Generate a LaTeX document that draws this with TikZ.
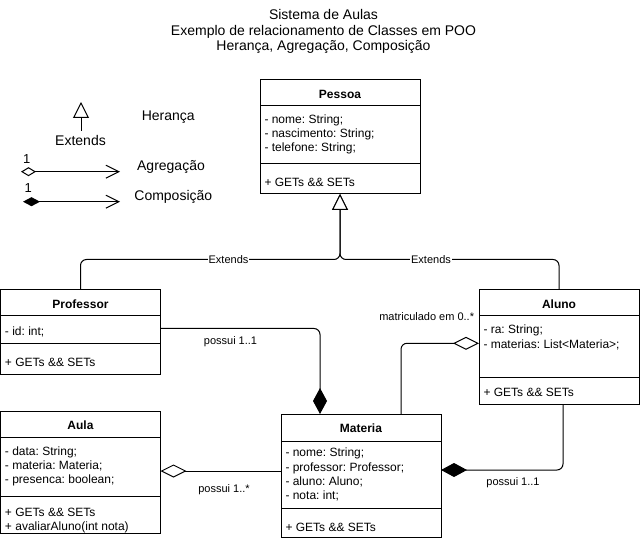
\documentclass[tikz,border=0pt]{standalone}
\usepackage{fontspec}
\setmainfont{Liberation Sans}
\usetikzlibrary{calc,arrows.meta}
\frenchspacing
\begin{document}
\begin{tikzpicture}[x=1pt,y=-1pt,line width=1pt,
  cls/.style={draw, anchor=north west, inner sep=0pt, outer sep=0pt, minimum width=160pt},
  cname/.style={font=\bfseries\fontsize{12}{14.4}\selectfont, inner sep=0pt},
  members/.style={anchor=north west, align=left, inner sep=0pt, font=\fontsize{12}{14.2}\selectfont, execute at begin node=\strut},
  elabel/.style={font=\fontsize{11}{13}\selectfont, inner sep=0pt, anchor=mid},
  legtext/.style={font=\fontsize{14}{16}\selectfont, inner sep=0pt, anchor=mid},
  link/.style={draw, rounded corners=6pt},
  inherit/.style={-{Triangle[open,fill=white,length=16pt,width=16pt]}},
  compoEnd/.style={-{Diamond[length=26pt,width=14pt]}},
  compoStart/.style={{Diamond[length=26pt,width=14pt]}-},
  aggrStart/.style={{Diamond[open,fill=white,length=26pt,width=13pt]}-}
]
\useasboundingbox (0,0) rectangle (640,545);

% ---------- title ----------
\node[legtext] (t1) at (323.5,16.8) {Sistema de Aulas};
\node[legtext] (t2) at (323.5,32.6) {Exemplo de relacionamento de Classes em POO};
\node[legtext] (t3) at (323.5,47.8) {Herança, Agregação, Composição};

% ---------- legend ----------
\coordinate (lgTipTop) at (81,102);
\coordinate (lgTipBot) at (81,131);
\draw[inherit] (lgTipBot) -- (lgTipTop);
\node[legtext] (lgExt) at (80.5,143) {Extends};
\node[legtext] (lgHer) at (168.3,118) {Herança};
\node[legtext] (lgAgr) at (171,168) {Agregação};
\node[legtext] (lgCom) at (173.3,198) {Composição};
\node[font=\fontsize{13}{15}\selectfont, inner sep=0pt, anchor=mid] (lgOneA) at (26.7,161) {1};
\node[font=\fontsize{13}{15}\selectfont, inner sep=0pt, anchor=mid] (lgOneB) at (28.3,190.3) {1};
\coordinate (lgAgrA) at (21,171.7);
\coordinate (lgAgrB) at (120,171.7);
\coordinate (lgComA) at (23,201.7);
\coordinate (lgComB) at (120,201.7);
\draw[{Diamond[open,fill=white,length=15pt,width=9pt]}-{Straight Barb[length=13pt,width=13pt]}] (lgAgrA) -- (lgAgrB);
\draw[{Diamond[length=17pt,width=9pt]}-{Straight Barb[length=13pt,width=13pt]}] (lgComA) -- (lgComB);

% ---------- Pessoa ----------
\node[cls, minimum height=114pt] (pessoa) at (260,80) {};
\draw ($(pessoa.north west)+(0,26)$) -- ++(160,0);
\draw ($(pessoa.north west)+(0,84)$) -- ++(160,0);
\node[cname] (pessoaT) at (340,94) {Pessoa};
\node[members] (pessoaA) at (264,114.3) {- nome: String;\\- nascimento: String;\\- telefone: String;};
\node[members] (pessoaM) at (264,176.3) {+ GETs \&\& SETs};

% ---------- Professor ----------
\node[cls, minimum height=84pt] (prof) at (0.5,290) {};
\draw ($(prof.north west)+(0,26)$) -- ++(160,0);
\draw ($(prof.north west)+(0,54)$) -- ++(160,0);
\node[cname] (profT) at (80.5,304) {Professor};
\node[members] (profA) at (4.5,325.3) {- id: int;};
\node[members] (profM) at (4.5,355.8) {+ GETs \&\& SETs};

% ---------- Aluno ----------
\node[cls, minimum height=114pt] (aluno) at (479,290) {};
\draw ($(aluno.north west)+(0,26)$) -- ++(160,0);
\draw ($(aluno.north west)+(0,87)$) -- ++(160,0);
\node[cname] (alunoT) at (559,304) {Aluno};
\node[members] (alunoA) at (483,324.8) {- ra: String;\\- materias: List<Materia>;};
\node[members] (alunoM) at (483,385.8) {+ GETs \&\& SETs};

% ---------- Aula ----------
\node[cls, minimum height=122pt] (aula) at (0.5,411) {};
\draw ($(aula.north west)+(0,26)$) -- ++(160,0);
\draw ($(aula.north west)+(0,85)$) -- ++(160,0);
\node[cname] (aulaT) at (80.5,425) {Aula};
\node[members] (aulaA) at (4.5,446.3) {- data: String;\\- materia: Materia;\\- presenca: boolean;};
\node[members] (aulaM) at (4.5,507.5) {+ GETs \&\& SETs\\+ avaliarAluno(int nota)};

% ---------- Materia ----------
\node[cls, minimum height=123pt] (mat) at (281,414) {};
\draw ($(mat.north west)+(0,27)$) -- ++(160,0);
\draw ($(mat.north west)+(0,94)$) -- ++(160,0);
\node[cname] (matT) at (361,428) {Materia};
\node[members] (matA) at (285,447.8) {- nome: String;\\- professor: Professor;\\- aluno: Aluno;\\- nota: int;};
\node[members] (matM) at (285,521) {+ GETs \&\& SETs};

% ---------- inheritance ----------
\coordinate (junction) at ($(pessoa.south)+(0,65.5)$);
\draw[link, inherit] (prof.north) |- (junction) -- (pessoa.south);
\draw[link, inherit] (aluno.north) |- (junction) -- (pessoa.south);
\node[elabel, fill=white, inner xsep=1pt] (ext1) at (228.5,260.5) {Extends};
\node[elabel, fill=white, inner xsep=1pt] (ext2) at (431,260.5) {Extends};

% ---------- associations ----------
\coordinate (profOut) at ($(prof.north east)+(0,38.5)$);
\coordinate (matTop1) at ($(mat.north west)+(39,0)$);
\draw[link, compoEnd] (profOut) -| (matTop1);
\node[elabel] (lbl1) at (230.5,342) {possui 1..1};

\coordinate (alunoOut) at ($(aluno.north west)+(0,53.3)$);
\coordinate (matTop2) at ($(mat.north west)+(120,0)$);
\draw[link, aggrStart] (alunoOut) -| (matTop2);
\node[elabel] (lbl2) at (426.7,317.7) {matriculado em 0..*};

\coordinate (aulaOut) at ($(aula.north east)+(0,60)$);
\draw[aggrStart] (aulaOut) -- (aulaOut -| mat.west);
\node[elabel] (lbl3) at (224,490.3) {possui 1..*};

\coordinate (matRight) at ($(mat.north east)+(0,56)$);
\coordinate (alunoBot) at ($(aluno.south)+(4,0)$);
\draw[link, compoStart] (matRight) -| (alunoBot);
\node[elabel] (lbl4) at (513,482.7) {possui 1..1};
\end{tikzpicture}
\end{document}
